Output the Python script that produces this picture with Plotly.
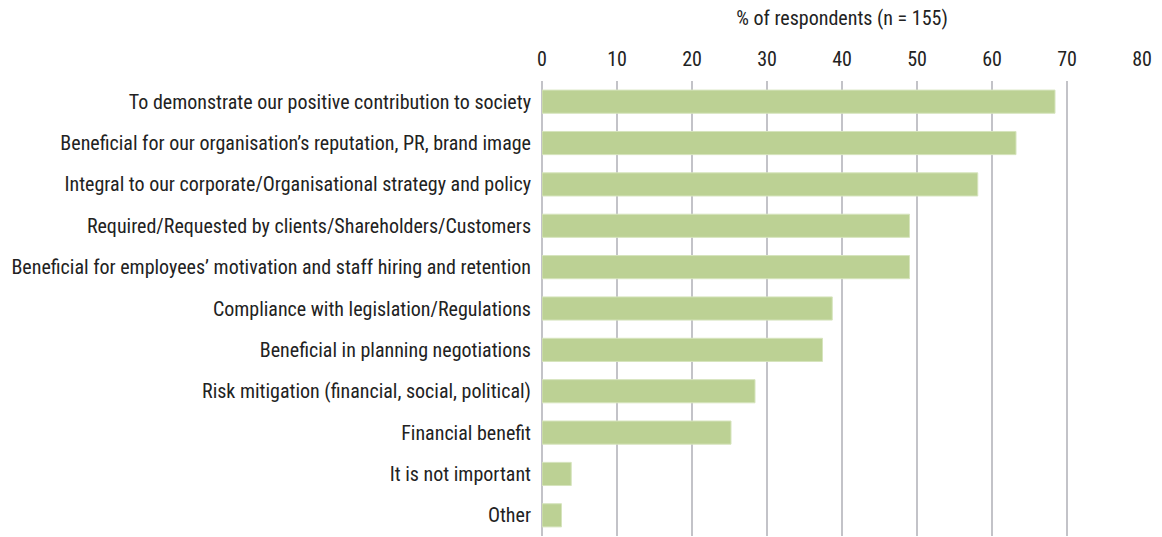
import plotly.graph_objects as go

reasons = [
    "To demonstrate our positive contribution to society",
    "Beneficial for our organisation\u2019s reputation, PR, brand image",
    "Integral to our corporate/Organisational strategy and policy",
    "Required/Requested by clients/Shareholders/Customers",
    "Beneficial for employees\u2019 motivation and staff hiring and retention",
    "Compliance with legislation/Regulations",
    "Beneficial in planning negotiations",
    "Risk mitigation (financial, social, political)",
    "Financial benefit",
    "It is not important",
    "Other",
]
share_pct = [68.4, 63.2, 58.1, 49.0, 49.0, 38.7, 37.4, 28.4, 25.2, 3.9, 2.6]
x_ticks = [0, 10, 20, 30, 40, 50, 60, 70, 80]

FONT = "Liberation Sans Narrow, Roboto Condensed, Arial Narrow, sans-serif"
TEXT = "#222222"

fig = go.Figure(
    go.Bar(
        x=share_pct,
        y=reasons,
        orientation="h",
        marker=dict(color="#bcd194", line=dict(color="#d6e4bd", width=1)),
        hoverinfo="x+y",
    )
)

fig.update_layout(
    width=1162,
    height=537,
    margin=dict(l=542, r=20, t=81, b=1),
    paper_bgcolor="white",
    plot_bgcolor="white",
    bargap=0.44,
    showlegend=False,
    font=dict(family=FONT, size=20, color=TEXT),
)

fig.update_xaxes(
    side="top",
    range=[0, 80],
    tickvals=x_ticks,
    showgrid=True,
    gridcolor="#c3c3c8",
    gridwidth=2,
    zeroline=True,
    zerolinecolor="#c3c3c8",
    zerolinewidth=2,
    showline=False,
    ticks="",
    ticklabelstandoff=10,
    tickfont=dict(size=20, family=FONT, color=TEXT),
    title=dict(text="% of respondents (n = 155)", standoff=16,
               font=dict(size=20, family=FONT, color=TEXT)),
)

fig.update_yaxes(
    categoryorder="array",
    categoryarray=reasons[::-1],
    showgrid=False,
    zeroline=False,
    showline=False,
    ticks="",
    ticklabelstandoff=10,
    tickfont=dict(size=20, family=FONT, color=TEXT),
)

fig.write_html("out.html")
